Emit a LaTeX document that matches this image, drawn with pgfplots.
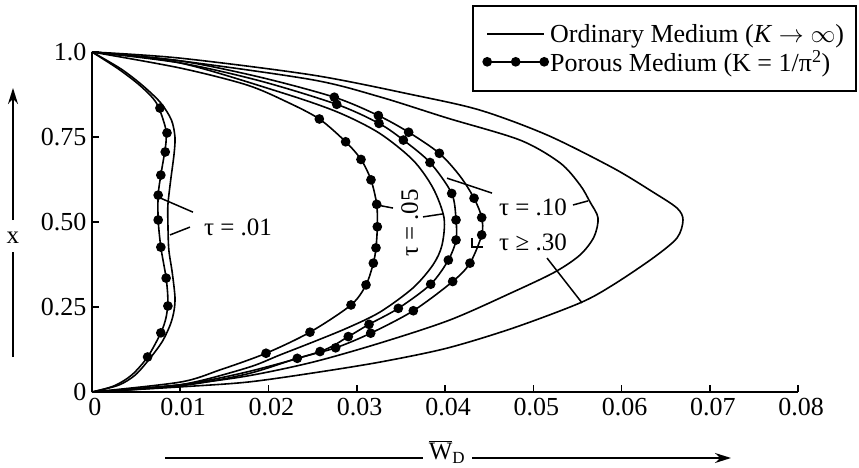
\documentclass[border=0pt]{standalone}
\usepackage{fontspec}
\setmainfont{Liberation Serif}
\usepackage{pgfplots}
\pgfplotsset{compat=1.18}
\usetikzlibrary{arrows.meta}

% Ordinary medium (K -> infinity), W_D against x
\pgfplotstableread{
W x
0 1.0
0.0033 0.950
0.0058 0.900
0.0078 0.850
0.0090 0.800
0.0094 0.750
0.0093 0.700
0.0089 0.620
0.0086 0.550
0.0086 0.500
0.0087 0.420
0.0091 0.350
0.0094 0.280
0.0093 0.240
0.0089 0.200
0.0080 0.150
0.0066 0.100
0.0049 0.050
0.0030 0.020
0 0
}\ordA
\pgfplotstableread{
W x
0 1.0
0.00997 0.968
0.02130 0.882
0.02776 0.824
0.03252 0.762
0.03637 0.682
0.03864 0.600
0.03989 0.512
0.03966 0.432
0.03864 0.374
0.03637 0.306
0.03263 0.235
0.02890 0.188
0.02504 0.147
0.02130 0.109
0.01756 0.071
0.00997 0.021
0 0
}\ordB
\pgfplotstableread{
W x
0 1.0
0.00997 0.974
0.02504 0.918
0.03263 0.868
0.04023 0.806
0.04850 0.741
0.05303 0.674
0.05530 0.609
0.05643 0.559
0.05734 0.512
0.05688 0.456
0.05530 0.403
0.05246 0.353
0.04771 0.294
0.04057 0.212
0.03263 0.144
0.02504 0.088
0.01756 0.047
0.00997 0.021
0 0
}\ordC
\pgfplotstableread{
W x
0 1.0
0.00997 0.982
0.02504 0.932
0.03637 0.874
0.04397 0.829
0.05156 0.756
0.05904 0.659
0.06357 0.588
0.06629 0.541
0.06697 0.506
0.06629 0.453
0.06357 0.394
0.05904 0.315
0.05530 0.262
0.04771 0.188
0.04023 0.129
0.03263 0.088
0.02504 0.056
0.01756 0.029
0.00997 0.015
0 0
}\ordD

% Porous medium (K = 1/pi^2): curves and computed points
\pgfplotstableread{
W x
0 1.0
0.0030 0.950
0.0055 0.900
0.0073 0.850
0.0083 0.780
0.0084 0.740
0.0082 0.700
0.0078 0.638
0.0075 0.580
0.0075 0.506
0.0078 0.426
0.0084 0.335
0.0086 0.270
0.0084 0.220
0.0078 0.174
0.0063 0.103
0.0045 0.050
0.0025 0.018
0 0
}\porA
\pgfplotstableread{
W x
0.0077 0.835
0.0085 0.762
0.0083 0.706
0.0078 0.638
0.0075 0.579
0.0075 0.506
0.0078 0.426
0.0084 0.335
0.0086 0.253
0.0078 0.174
0.0063 0.103
}\porAdots
\pgfplotstableread{
W x
0 1.0
0.00997 0.953
0.01756 0.903
0.02210 0.853
0.02576 0.803
0.02874 0.736
0.03048 0.684
0.03161 0.624
0.03226 0.552
0.03233 0.486
0.03218 0.424
0.03188 0.379
0.03105 0.315
0.02935 0.256
0.02470 0.176
0.01972 0.114
0.01450 0.065
0.00997 0.029
0 0
}\porB
\pgfplotstableread{
W x
0.02576 0.803
0.02874 0.736
0.03048 0.684
0.03161 0.624
0.03226 0.552
0.03233 0.486
0.03218 0.424
0.03188 0.379
0.03105 0.315
0.02935 0.256
0.02470 0.176
0.01972 0.114
}\porBdots
\pgfplotstableread{
W x
0 1.0
0.00997 0.968
0.01904 0.915
0.02773 0.846
0.03252 0.790
0.03528 0.741
0.03830 0.675
0.04076 0.584
0.04125 0.506
0.04125 0.447
0.04038 0.388
0.03838 0.317
0.03471 0.246
0.03139 0.199
0.02904 0.163
0.02584 0.119
0.01756 0.059
0.00997 0.021
0 0
}\porC
\pgfplotstableread{
W x
0.02773 0.846
0.03252 0.790
0.03528 0.741
0.03830 0.675
0.04076 0.584
0.04125 0.506
0.04125 0.447
0.04038 0.388
0.03838 0.317
0.03471 0.246
0.03139 0.199
0.02904 0.163
0.02584 0.119
}\porCdots
\pgfplotstableread{
W x
0 1.0
0.00997 0.974
0.01904 0.926
0.02746 0.867
0.03245 0.813
0.03588 0.764
0.03936 0.702
0.04170 0.635
0.04329 0.570
0.04416 0.513
0.04416 0.462
0.04283 0.379
0.04087 0.325
0.03641 0.239
0.03158 0.173
0.02761 0.130
0.02326 0.099
0.01756 0.053
0.00997 0.018
0 0
}\porD
\pgfplotstableread{
W x
0.02746 0.867
0.03245 0.813
0.03588 0.764
0.03936 0.702
0.04329 0.570
0.04416 0.513
0.04416 0.462
0.04283 0.379
0.04087 0.325
0.03641 0.239
0.03158 0.173
0.02761 0.130
0.02326 0.099
}\porDdots

\begin{document}
\begin{tikzpicture}
\useasboundingbox (-92pt,-75pt) rectangle (767pt,392pt);
\begin{axis}[
  scale only axis,
  width=706pt, height=340pt,
  xmin=0, xmax=0.08, ymin=0, ymax=1,
  scaled x ticks=false,
  axis x line*=bottom, axis y line*=left,
  axis line style={line width=1.8pt},
  tick align=inside,
  major tick length=7pt,
  tick style={line width=1.5pt, black},
  xtick={0,0.01,0.02,0.03,0.04,0.05,0.06,0.07,0.08},
  xticklabels={0,0.01,0.02,0.03,0.04,0.05,0.06,0.07,0.08},
  ytick={0,0.25,0.5,0.75,1},
  yticklabels={0,0.25,0.50,0.75,1.0},
  ticklabel style={font=\fontsize{26}{26}\selectfont},
  xticklabel style={yshift=-3pt, xshift=3pt},
  yticklabel style={xshift=-2pt},
  clip=false,
  every axis plot/.append style={line width=1.6pt, black},
  legend style={at={(1.0836,1.138)}, anchor=north east, draw=black,
    line width=1.8pt, inner xsep=10pt, inner ysep=16pt,
    font=\fontsize{26}{30}\selectfont, row sep=3pt},
  legend cell align=left,
]
\addlegendimage{line width=1.6pt, black,
  legend image code/.code={\draw[line width=1.6pt] (0pt,0pt) -- (57pt,0pt);}}
\addlegendentry{Ordinary Medium (\textit{K} $\rightarrow \infty$)}
\addlegendimage{line width=1.6pt, black,
  legend image code/.code={\draw[line width=1.6pt, mark=*, mark size=4pt, mark repeat=1] plot coordinates {(0pt,0pt) (28.5pt,0pt) (57pt,0pt)};}}
\addlegendentry{Porous Medium (K = 1/π\textsuperscript{2})}

\addplot[smooth, forget plot] table[x=W, y=x] {\ordA};
\addplot[smooth, forget plot] table[x=W, y=x] {\ordB};
\addplot[smooth, forget plot] table[x=W, y=x] {\ordC};
\addplot[smooth, forget plot] table[x=W, y=x] {\ordD};

\addplot[smooth, forget plot] table[x=W, y=x] {\porA};
\addplot[smooth, forget plot] table[x=W, y=x] {\porB};
\addplot[smooth, forget plot] table[x=W, y=x] {\porC};
\addplot[smooth, forget plot] table[x=W, y=x] {\porD};
\addplot[only marks, mark=*, mark size=4pt, forget plot] table[x=W, y=x] {\porAdots};
\addplot[only marks, mark=*, mark size=4pt, forget plot] table[x=W, y=x] {\porBdots};
\addplot[only marks, mark=*, mark size=4pt, forget plot] table[x=W, y=x] {\porCdots};
\addplot[only marks, mark=*, mark size=4pt, forget plot] table[x=W, y=x] {\porDdots};

% curve labels and their leader lines
\begin{scope}[line width=1.5pt]
\node[font=\fontsize{25}{30}\selectfont] at (axis cs:0.01654,0.485) {τ = .01};
\draw (axis cs:0.01144,0.529) -- (axis cs:0.0077,0.571);
\draw (axis cs:0.0111,0.485) -- (axis cs:0.00884,0.462);
\node[font=\fontsize{25}{30}\selectfont, rotate=90] at (axis cs:0.0360,0.497) {τ = .05};
\draw (axis cs:0.03230,0.550) -- (axis cs:0.03411,0.541);
\draw (axis cs:0.03751,0.515) -- (axis cs:0.03980,0.524);
\node[font=\fontsize{25}{30}\selectfont] at (axis cs:0.04997,0.544) {τ = .10};
\draw (axis cs:0.05450,0.550) -- (axis cs:0.05620,0.562);
\draw (axis cs:0.04023,0.629) -- (axis cs:0.04533,0.585);
\node[font=\fontsize{25}{30}\selectfont] at (axis cs:0.04997,0.441) {τ ≥ .30};
\draw (axis cs:0.04431,0.426) -- (axis cs:0.04306,0.426) -- (axis cs:0.04306,0.453);
\draw (axis cs:0.05156,0.394) -- (axis cs:0.05553,0.262);
\end{scope}
\end{axis}

% axis names with direction arrows
\node[font=\fontsize{25}{30}\selectfont] at (-79pt,154pt) {x};
\draw[line width=1.6pt, -{Stealth[length=16pt,width=10pt]}] (-79pt,172pt) -- (-79pt,304pt);
\draw[line width=1.6pt] (-79pt,35pt) -- (-79pt,140pt);
\node[font=\fontsize{25}{30}\selectfont] at (355pt,-60pt)
  {$\overline{\hbox{W}}_{\hbox{\fontsize{17}{17}\selectfont D}}$};
\draw[line width=1.6pt] (73pt,-66pt) -- (331pt,-66pt);
\draw[line width=1.6pt, -{Stealth[length=16pt,width=10pt]}] (380pt,-66pt) -- (639pt,-66pt);
\end{tikzpicture}
\end{document}
